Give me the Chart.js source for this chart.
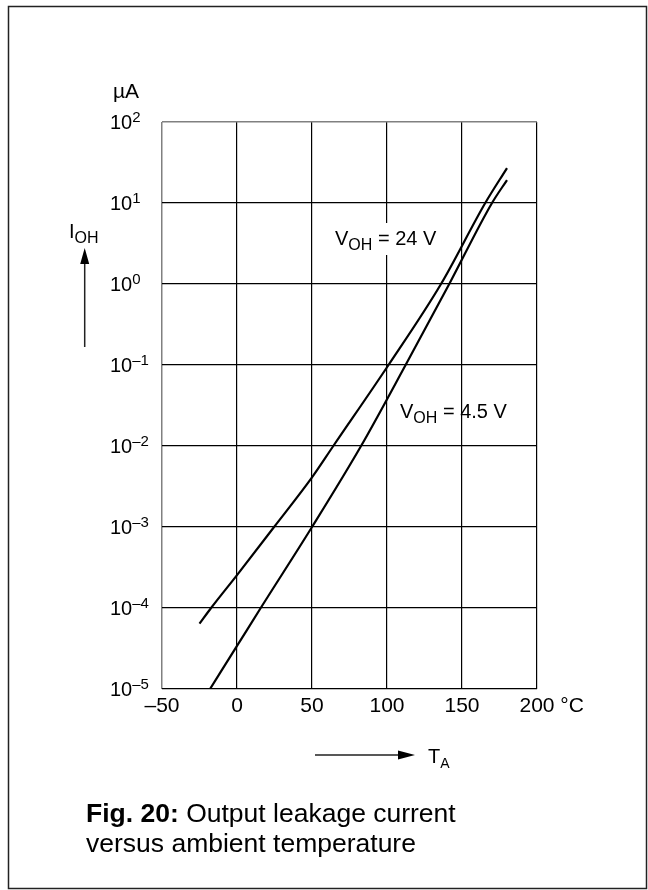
<!DOCTYPE html>
<html>
<head>
<meta charset="utf-8">
<script src="https://cdn.jsdelivr.net/npm/chart.js"></script>
<style>
    body { margin: 0; background: #fff; }
    canvas { display: block; }
</style>
</head>
<body>
<canvas id="chart" width="648" height="890"></canvas>
<script>
// V_OH = 24 V curve
var tempHigh = [-25, -17.3, 0, 24.7, 50, 64.2, 101, 136, 165.5, 180];
var leakHigh = [6.4e-5, 1e-4, 2.55e-4, 1e-3, 4.1e-3, 1e-2, 1e-1, 1, 10, 27];
// V_OH = 4.5 V curve
var tempLow = [-18, 0, 15.8, 50, 82.7, 112.4, 141.5, 170, 180];
var leakLow = [1e-5, 3.4e-5, 1e-4, 1e-3, 1e-2, 1e-1, 1, 10, 19.2];

var xTicks = [-50, 0, 50, 100, 150, 200];
var xTickLabels = ["\u201350", "0", "50", "100", "150", "200"];
var yTicks = [1e-5, 1e-4, 1e-3, 1e-2, 1e-1, 1, 10, 100];
var yTickExp = ["\u20135", "\u20134", "\u20133", "\u20132", "\u20131", "0", "1", "2"];

var FONT = "'Liberation Sans', Arial, Helvetica, sans-serif";

function toPoints(xs, ys) {
    var pts = [];
    for (var i = 0; i < xs.length; i++) {
        pts.push({x: xs[i], y: ys[i]});
    }
    return pts;
}

function font(size, bold) {
    return (bold ? "bold " : "") + size + "px " + FONT;
}

// text with a subscript part, e.g. V_OH
function drawSub(c, x, y, main, sub, rest, size, subSize) {
    c.font = font(size);
    c.fillText(main, x, y);
    x += c.measureText(main).width;
    c.font = font(subSize);
    c.fillText(sub, x, y + 5);
    x += c.measureText(sub).width;
    if (rest) {
        c.font = font(size);
        c.fillText(rest, x, y);
        x += c.measureText(rest).width;
    }
    return x;
}

var decorations = {
    id: "decorations",
    afterDraw: function (chart) {
        var c = chart.ctx;
        var xs = chart.scales.x;
        var ys = chart.scales.y;
        c.save();
        c.fillStyle = "#000";
        c.textBaseline = "alphabetic";

        // outer frame
        c.strokeStyle = "#222";
        c.lineWidth = 1.5;
        c.strokeRect(8.5, 6.5, 638, 882);

        // y tick labels 10^n
        c.textAlign = "left";
        for (var i = 0; i < yTicks.length; i++) {
            var py = ys.getPixelForValue(yTicks[i]) + 7;
            c.font = font(20);
            c.fillText("10", 110, py);
            var w = c.measureText("10").width;
            c.font = font(15);
            c.fillText(yTickExp[i], 110 + w, py - 7.5);
        }

        // x tick labels
        c.font = font(21);
        for (var j = 0; j < xTicks.length; j++) {
            var px = xs.getPixelForValue(xTicks[j]);
            var tw = c.measureText(xTickLabels[j]).width;
            c.fillText(xTickLabels[j], px - tw / 2, 712);
            if (j == xTicks.length - 1) {
                c.fillText(" \u00b0C", px + tw / 2, 712);
            }
        }

        // unit and axis names
        c.font = font(21);
        c.fillText("\u00b5A", 113, 98);
        drawSub(c, 69, 238, "I", "OH", "", 20, 16);
        drawSub(c, 428, 763, "T", "A", "", 20, 14);

        // arrows
        c.strokeStyle = "#222";
        c.lineWidth = 1.5;
        c.beginPath();
        c.moveTo(84.7, 347);
        c.lineTo(84.7, 262);
        c.moveTo(315, 755);
        c.lineTo(400, 755);
        c.stroke();
        c.beginPath();
        c.moveTo(84.7, 248);
        c.lineTo(80.2, 264);
        c.lineTo(89.2, 264);
        c.closePath();
        c.moveTo(415, 755);
        c.lineTo(398, 750.5);
        c.lineTo(398, 759.5);
        c.closePath();
        c.fill();

        // curve labels
        c.fillStyle = "#fff";
        c.fillRect(332, 223, 114, 32);
        c.fillStyle = "#000";
        drawSub(c, 335, 245, "V", "OH", " = 24 V", 20, 16);
        drawSub(c, 400, 418, "V", "OH", " = 4.5 V", 20, 16);

        // caption
        c.font = font(26.5, true);
        c.fillText("Fig. 20:", 86, 822);
        var fw = c.measureText("Fig. 20:").width;
        c.font = font(26.5);
        c.fillText(" Output leakage current", 86 + fw, 822);
        c.fillText("versus ambient temperature", 86, 852);
        c.restore();
    }
};

var ctx = document.getElementById("chart").getContext("2d");
var myChart = new Chart(ctx, {
    type: "scatter",
    data: {
        datasets: [
            {
                label: "VOH = 24 V",
                data: toPoints(tempHigh, leakHigh),
                showLine: true,
                borderColor: "#000",
                borderWidth: 2.2,
                pointRadius: 0,
                cubicInterpolationMode: "monotone"
            },
            {
                label: "VOH = 4.5 V",
                data: toPoints(tempLow, leakLow),
                showLine: true,
                borderColor: "#000",
                borderWidth: 2.2,
                pointRadius: 0,
                cubicInterpolationMode: "monotone"
            }
        ]
    },
    options: {
        responsive: false,
        animation: {
            duration: 0
        },
        layout: {
            padding: {left: 162, top: 122, right: 111, bottom: 201}
        },
        plugins: {
            legend: {
                display: false
            },
            tooltip: {
                enabled: false
            }
        },
        scales: {
            x: {
                type: "linear",
                min: -50,
                max: 200,
                afterBuildTicks: function (scale) {
                    scale.ticks = xTicks.map(function (v) { return {value: v}; });
                },
                ticks: {
                    display: false
                },
                border: {
                    display: false
                },
                grid: {
                    drawTicks: false,
                    color: function (c) { return c.tick && c.tick.value == -50 ? "#808080" : "#000"; },
                    lineWidth: function (c) { return c.tick && c.tick.value == -50 ? 1.5 : 1.2; }
                }
            },
            y: {
                type: "logarithmic",
                min: 1e-5,
                max: 100,
                afterBuildTicks: function (scale) {
                    scale.ticks = yTicks.map(function (v) { return {value: v}; });
                },
                ticks: {
                    display: false
                },
                border: {
                    display: false
                },
                grid: {
                    drawTicks: false,
                    color: function (c) { return c.tick && c.tick.value == 100 ? "#808080" : "#000"; },
                    lineWidth: function (c) { return c.tick && c.tick.value == 100 ? 1.5 : 1.2; }
                }
            }
        }
    },
    plugins: [decorations]
});
</script>
</body>
</html>
